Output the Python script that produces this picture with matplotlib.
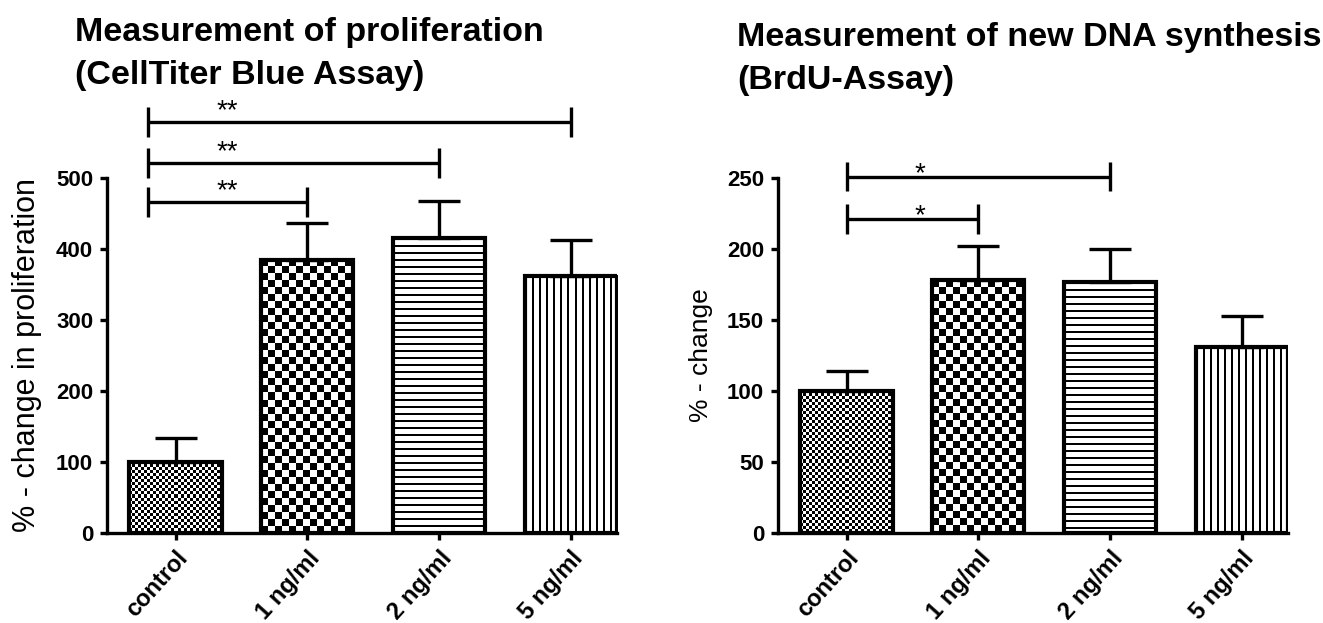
import numpy as np
import matplotlib
matplotlib.use("Agg")
import matplotlib.pyplot as plt

groups = ["control", "1 ng/ml", "2 ng/ml", "5 ng/ml"]
patterns = ["fine", "checker", "hlines", "vlines"]

prolif_mean = [100, 385, 416, 362]
prolif_sem = [34, 52, 52, 50]
# (index of compared group, bracket height, label)
prolif_sig = [(1, 466, "**"), (2, 521, "**"), (3, 579, "**")]

brdu_mean = [100, 178, 177, 131]
brdu_sem = [14, 24, 23, 22]
brdu_sig = [(1, 221, "*"), (2, 251, "*")]

plt.rcParams["font.family"] = ["Liberation Sans", "DejaVu Sans"]
plt.rcParams["font.weight"] = "bold"


def texture(kind, w, h):
    yy, xx = np.mgrid[0:h, 0:w]
    if kind == "fine":
        img = (xx // 3 + yy // 3) % 2
    elif kind == "checker":
        img = (xx // 7 + yy // 7) % 2
    elif kind == "hlines":
        img = (yy % 7 >= 2).astype(int)
    else:
        img = (xx % 7 >= 2).astype(int)
    return img


def draw_panel(ax, means, sems, ymax, step, ylabel, ylabel_size, sig,
               bracket_x0, star_x, star_dy, tick_h):
    x = np.arange(len(groups))
    ax.set_xlim(-0.52, 3.35)
    ax.set_ylim(0, ymax)
    bars = ax.bar(x, means, width=0.7, facecolor="none", edgecolor="black",
                  linewidth=3, zorder=3)
    inv = ax.transData.inverted()
    for bar, kind in zip(bars, patterns):
        x0 = bar.get_x()
        x1 = x0 + bar.get_width()
        (px0, py0), (px1, py1) = ax.transData.transform([(x0, 0), (x1, bar.get_height())])
        nw = int(round(px1 - px0))
        nh = int(round(py1 - py0))
        x1s, y1s = inv.transform((px0 + nw, py0 + nh))
        img = texture(kind, nw, nh)
        ax.imshow(img, cmap="gray", vmin=0, vmax=1, interpolation="nearest",
                  extent=(x0, x1s, 0, y1s), aspect="auto", zorder=2)
    ax.errorbar(x, means, yerr=[np.zeros(len(means)), sems], fmt="none", ecolor="black",
                elinewidth=2.4, capsize=15, capthick=2.4, zorder=4)
    ax.set_xlim(-0.52, 3.35)
    ax.set_ylim(0, ymax)

    for end, y, label in sig:
        kw = dict(color="black", lw=2.4, clip_on=False, solid_capstyle="butt")
        ax.plot([bracket_x0, end], [y, y], **kw)
        ax.plot([bracket_x0, bracket_x0], [y - tick_h, y + tick_h], **kw)
        ax.plot([end, end], [y - tick_h, y + tick_h], **kw)
        ax.text(star_x, y + star_dy, label, ha="center", va="baseline",
                fontsize=20, fontweight="normal")

    ax.spines[["top", "right"]].set_visible(False)
    ax.spines[["left", "bottom"]].set_linewidth(2.4)
    ax.set_yticks(np.arange(0, ymax + 1, step))
    ax.tick_params(width=2.4, length=5, labelsize=16, pad=5)
    ax.set_xticks(x, groups, rotation=48, ha="right", rotation_mode="anchor",
                  fontsize=17)
    ax.set_ylabel(ylabel, fontsize=ylabel_size, labelpad=10)


fig = plt.figure(figsize=(13.23, 6.23), dpi=100)
ax1 = fig.add_axes([107 / 1323, 90 / 623, 510 / 1323, 355 / 623])
ax2 = fig.add_axes([778 / 1323, 90 / 623, 510 / 1323, 355 / 623])

draw_panel(ax1, prolif_mean, prolif_sem, 500, 100, "% - change in proliferation", 22,
           prolif_sig, -0.21, 0.39, 5, 21)
draw_panel(ax2, brdu_mean, brdu_sem, 250, 50, "% - change", 19,
           brdu_sig, 0.0, 0.56, -3, 10.5)

fig.text(75 / 1323, 1 - 17 / 623, "Measurement of proliferation\n(CellTiter Blue Assay)",
         ha="left", va="top", fontsize=24.5, fontweight="bold", linespacing=1.5)
fig.text(737 / 1323, 1 - 22 / 623, "Measurement of new DNA synthesis\n(BrdU-Assay)",
         ha="left", va="top", fontsize=24.5, fontweight="bold", linespacing=1.5)

fig.savefig("out.png", dpi=100)
